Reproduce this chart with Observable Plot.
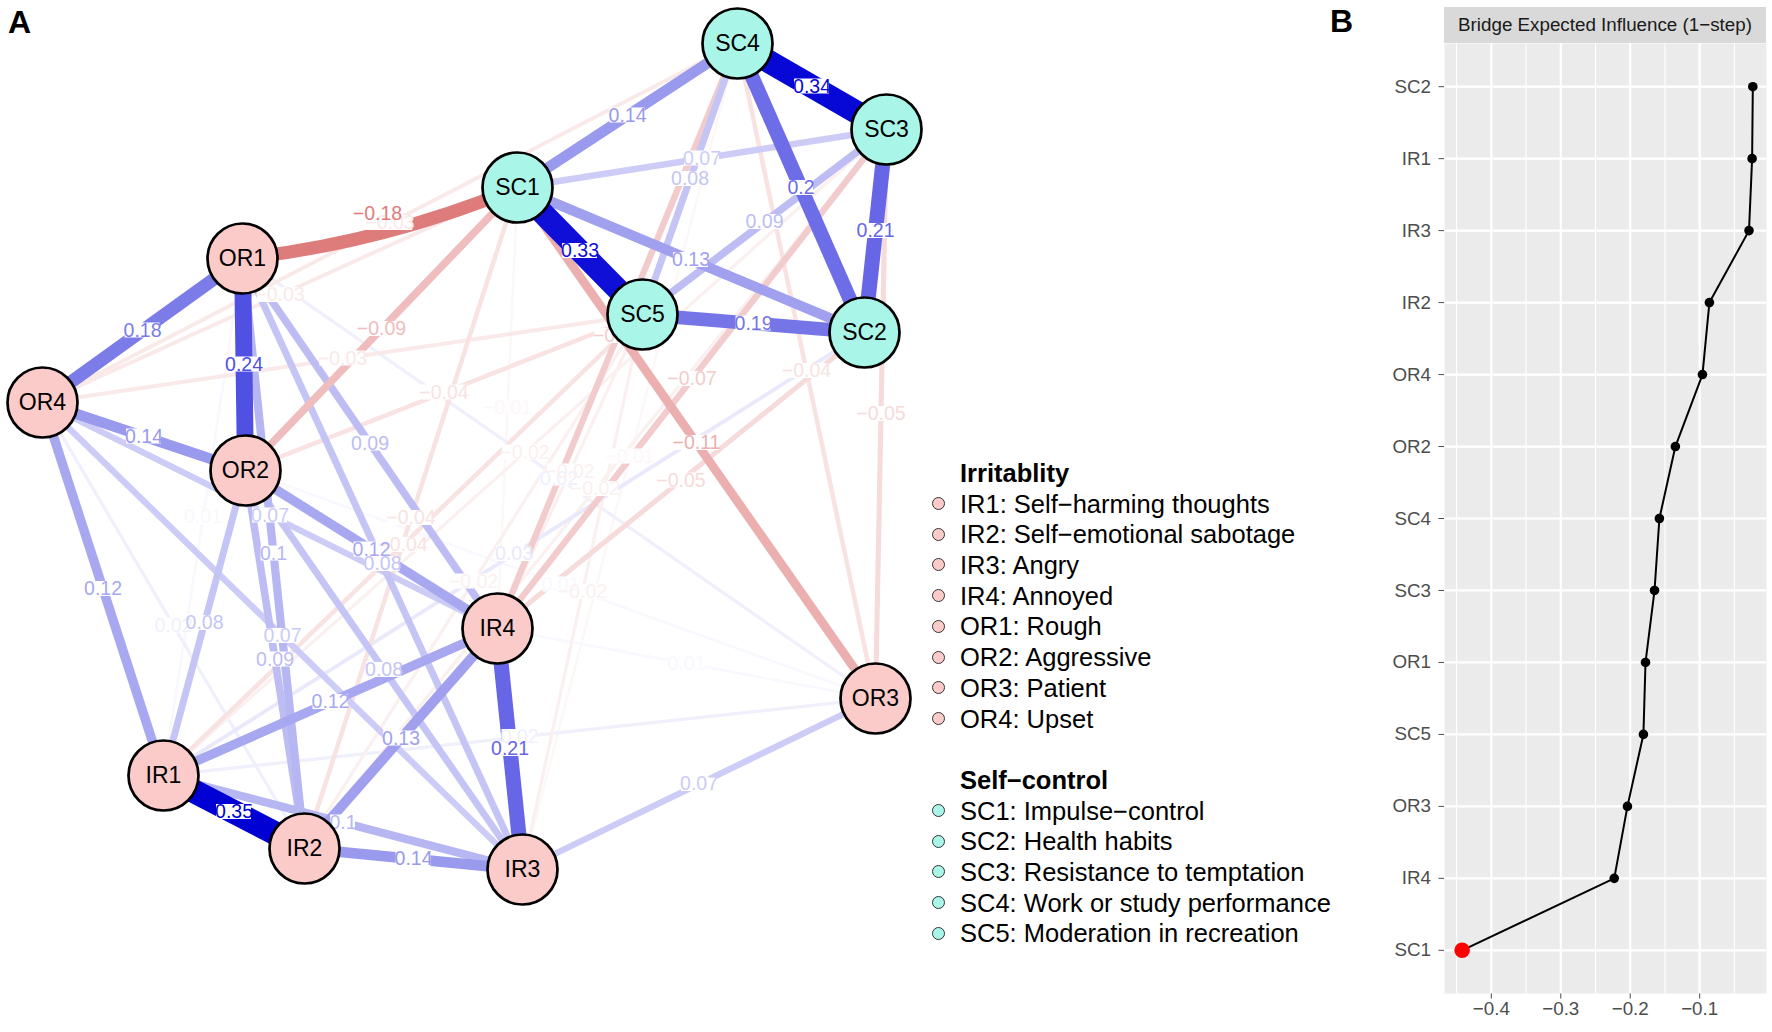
<!DOCTYPE html>
<html><head><meta charset="utf-8">
<script src="https://cdn.jsdelivr.net/npm/d3@7"></script>
<script src="https://cdn.jsdelivr.net/npm/@observablehq/plot@0.6"></script>
<style>
body{margin:0;background:#fff;font-family:"Liberation Sans",Arial,Helvetica,sans-serif;}
#wrap{position:relative;width:1772px;height:1032px;overflow:hidden;background:#fff}
#panelA{position:absolute;left:0;top:0}
#panelB{position:absolute;left:1330px;top:0}
.plabel{position:absolute;font-weight:bold;font-size:32px;line-height:32px;color:#000}
#strip{position:absolute;left:1444px;top:7px;width:322px;height:36px;background:#D9D9D9;color:#1A1A1A;font-size:18.8px;line-height:36px;text-align:center;white-space:nowrap}
#legend{position:absolute;left:928px;top:458px;font-size:25.5px;color:#000}
.row{position:relative;height:30.7px;line-height:30.7px;padding-left:32px;white-space:nowrap}
.row.title{font-weight:bold}
.dot{position:absolute;left:3.5px;top:8.4px;width:11px;height:11px;border-radius:50%;border:1.3px solid #333}
</style></head>
<body><div id="wrap">
<div id="panelA"></div>
<div id="panelB"></div>
<div id="strip"></div>
<div id="legend"></div>
<div class="plabel" style="left:8px;top:6px">A</div>
<div class="plabel" style="left:1330px;top:5px">B</div>
</div>
<script>
// ---------- Panel A data: network ----------
const nodeNames = ["IR1","IR2","IR3","IR4","OR1","OR2","OR3","OR4","SC1","SC2","SC3","SC4","SC5"];
const nodeX     = [163, 304, 522, 497, 242, 245, 875, 42, 517, 864, 886, 737, 642];
const nodeY     = [775, 848, 869, 628, 258, 470, 698, 402, 187, 332, 129, 43, 314];
const nodeGroup = ["IR","IR","IR","IR","IR","IR","IR","IR","SC","SC","SC","SC","SC"];

const edgeFrom = ["IR1","SC4","SC1","OR1","SC3","IR4","SC4","SC5","OR1","SC1","OR4","IR2","SC1","IR4","OR2","OR4","IR1","IR1","OR1","OR1","OR2","SC3","SC4","OR1","OR2","OR2","SC1","OR4","OR4","IR3","SC2","OR4","IR1","OR1","OR1","IR4","OR2",
  "OR1","SC1","SC1","SC4","SC3","SC3","SC2","SC1","SC4","SC5","SC5","SC1","SC4","SC5","SC3","SC3","SC5","SC5","SC5","SC1","SC4"];
const edgeTo   = ["IR2","SC3","SC5","OR2","SC2","IR3","SC2","SC2","OR4","SC4","OR2","IR3","SC2","IR2","IR4","IR1","IR4","IR3","IR2","IR4","IR2","SC5","SC5","IR3","IR1","IR3","SC3","IR4","IR3","OR3","IR1","IR2","OR3","OR3","IR1","OR3","OR3",
  "SC1","OR3","OR2","IR4","IR4","OR3","IR4","IR2","OR3","OR2","IR1","OR4","OR4","OR4","IR1","IR2","IR4","IR2","IR3","IR4","IR3"];
const edgeWeight = [0.35,0.34,0.33,0.24,0.21,0.21,0.20,0.19,0.18,0.14,0.14,0.14,0.13,0.13,0.12,0.12,0.12,0.10,0.10,0.09,0.09,0.09,0.08,0.08,0.08,0.08,0.07,0.07,0.07,0.07,0.03,0.02,0.02,0.02,0.01,0.01,0.01,
  -0.18,-0.11,-0.09,-0.07,-0.07,-0.05,-0.05,-0.04,-0.04,-0.04,-0.04,-0.03,-0.03,-0.03,-0.02,-0.02,-0.02,-0.02,-0.02,-0.01,-0.01];
const curvedFrom = ["OR1"], curvedTo = ["SC1"];

const legendGroups = ["Irritablity","Self\u2212control"];
const legendIR = ["IR1: Self\u2212harming thoughts","IR2: Self\u2212emotional sabotage","IR3: Angry","IR4: Annoyed","OR1: Rough","OR2: Aggressive","OR3: Patient","OR4: Upset"];
const legendSC = ["SC1: Impulse\u2212control","SC2: Health habits","SC3: Resistance to temptation","SC4: Work or study performance","SC5: Moderation in recreation"];

// ---------- Panel B data ----------
const beiNodes  = ["SC2","IR1","IR3","IR2","OR4","OR2","SC4","SC3","OR1","SC5","OR3","IR4","SC1"];
const beiValues = [-0.0235,-0.0245,-0.029,-0.086,-0.096,-0.135,-0.158,-0.165,-0.178,-0.181,-0.204,-0.223,-0.442];
const beiTitle = "Bridge Expected Influence (1\u2212step)";
const xTicks = [-0.4,-0.3,-0.2,-0.1];
const xMinor = [-0.45,-0.35,-0.25,-0.15,-0.05];

// ---------- styling ----------
const FONT = '"Liberation Sans", Arial, Helvetica, sans-serif';
const fillIR = "#FBCBCA", fillSC = "#A9F6E8";
const posBase = "rgb(0,0,213)", negBase = "rgb(191,0,0)";
const maxW = 0.35;

const idx = new Map(nodeNames.map((n,i)=>[n,i]));
const nodes = nodeNames.map((n,i)=>({name:n,x:nodeX[i],y:nodeY[i],fill:nodeGroup[i]==="IR"?fillIR:fillSC}));
const fmt = w => (w<0?"\u2212":"") + String(+Math.abs(w).toFixed(2));
const charW = c => c==="."?0.278:(c==="\u2212"?0.584:0.556);
const LFS = 19.5;
const isCurved = (f,t) => curvedFrom.some((c,i)=>(c===f&&curvedTo[i]===t)||(c===t&&curvedTo[i]===f));
const BEND = 8;

const edges = edgeFrom.map((f,i)=>{
  const t = edgeTo[i], w = edgeWeight[i];
  const a = idx.get(f), b = idx.get(t);
  const x1=nodeX[a], y1=nodeY[a], x2=nodeX[b], y2=nodeY[b];
  const k = Math.min(1, Math.abs(w)/maxW);
  const color = d3.interpolateRgb("white", w>0?posBase:negBase)(k);
  const curved = isCurved(f,t);
  let lx=(x1+x2)/2, ly=(y1+y2)/2;
  if (curved) {
    const dx=x2-x1, dy=y2-y1, L=Math.hypot(dx,dy);
    const s = (L/2)*Math.tan(BEND*Math.PI/360);
    let nx = dy/L, ny = -dx/L;
    if (ny>0) {nx=-nx; ny=-ny;}
    lx += nx*s; ly += ny*s;
  }
  const label = fmt(w);
  const bw = LFS*[...label].reduce((s,c)=>s+charW(c),0)*0.92;
  return {f,t,w,x1,y1,x2,y2,color,width:2+62*Math.abs(w),curved,lx,ly,label,bw};
}).sort((p,q)=>Math.abs(p.w)-Math.abs(q.w));

const straight = edges.filter(e=>!e.curved);
const bent = edges.filter(e=>e.curved);

const plotA = Plot.plot({
  width:1330, height:1032, margin:0,
  x:{domain:[0,1330], range:[0,1330], axis:null},
  y:{domain:[0,1032], range:[0,1032], axis:null},
  color:{type:"identity"},
  style:{fontFamily:FONT, background:"transparent", overflow:"visible"},
  marks:[
    Plot.link(straight, {x1:"x1", y1:"y1", x2:"x2", y2:"y2", stroke:"color", strokeWidth:"width"}),
    Plot.arrow(bent, {x1:"x1", y1:"y1", x2:"x2", y2:"y2", stroke:"color", strokeWidth:"width", bend:-BEND, headLength:0}),
    Plot.rect(edges, {x1:d=>d.lx-d.bw/2, x2:d=>d.lx+d.bw/2, y1:d=>d.ly-7.5, y2:d=>d.ly+7.5, fill:"white"}),
    Plot.text(edges, {x:"lx", y:"ly", text:"label", fill:"color", fontSize:LFS}),
    Plot.dot(nodes, {x:"x", y:"y", r:35, fill:"fill", stroke:"black", strokeWidth:2.7}),
    Plot.text(nodes, {x:"x", y:"y", text:"name", fill:"black", fontSize:23})
  ]
});
document.getElementById("panelA").appendChild(plotA);

// ---------- Legend ----------
const leg = document.getElementById("legend");
function addRow(text, cls, color){
  const r = document.createElement("div");
  r.className = "row" + (cls?(" "+cls):"");
  if (color){ const d=document.createElement("span"); d.className="dot"; d.style.background=color; r.appendChild(d); }
  const s = document.createElement("span"); s.textContent = text; r.appendChild(s);
  leg.appendChild(r);
}
addRow(legendGroups[0], "title");
legendIR.forEach(t=>addRow(t, "", fillIR));
addRow("\u00a0", "");
addRow(legendGroups[1], "title");
legendSC.forEach(t=>addRow(t, "", fillSC));

// ---------- Panel B ----------
document.getElementById("strip").textContent = beiTitle;
const bei = beiNodes.map((n,i)=>({node:n, value:beiValues[i]}));
const minV = d3.min(beiValues);
const plotB = Plot.plot({
  width:442, height:1032, marginLeft:114, marginRight:6, marginTop:43, marginBottom:39,
  style:{fontFamily:FONT, fontSize:"18.8px", color:"#4D4D4D", background:"transparent"},
  x:{domain:[-0.4674,-0.0038], ticks:xTicks, tickSize:5.5, tickPadding:3, label:null,
     tickFormat:d=>d3.format(".1f")(d).replace("-","\u2212")},
  y:{type:"point", domain:beiNodes, padding:0.6, round:false, tickSize:5.5, tickPadding:8, label:null},
  marks:[
    Plot.frame({fill:"#EBEBEB", stroke:null}),
    Plot.ruleX(xMinor, {stroke:"white", strokeWidth:1.1}),
    Plot.ruleX(xTicks, {stroke:"white", strokeWidth:2.2}),
    Plot.ruleY(beiNodes, {stroke:"white", strokeWidth:2.2}),
    Plot.line(bei, {x:"value", y:"node", stroke:"black", strokeWidth:2}),
    Plot.dot(bei.filter(d=>d.value!==minV), {x:"value", y:"node", r:4.8, fill:"black"}),
    Plot.dot(bei.filter(d=>d.value===minV), {x:"value", y:"node", r:7.8, fill:"#FF0000"})
  ]
});
document.getElementById("panelB").appendChild(plotB);
</script>
</body></html>
